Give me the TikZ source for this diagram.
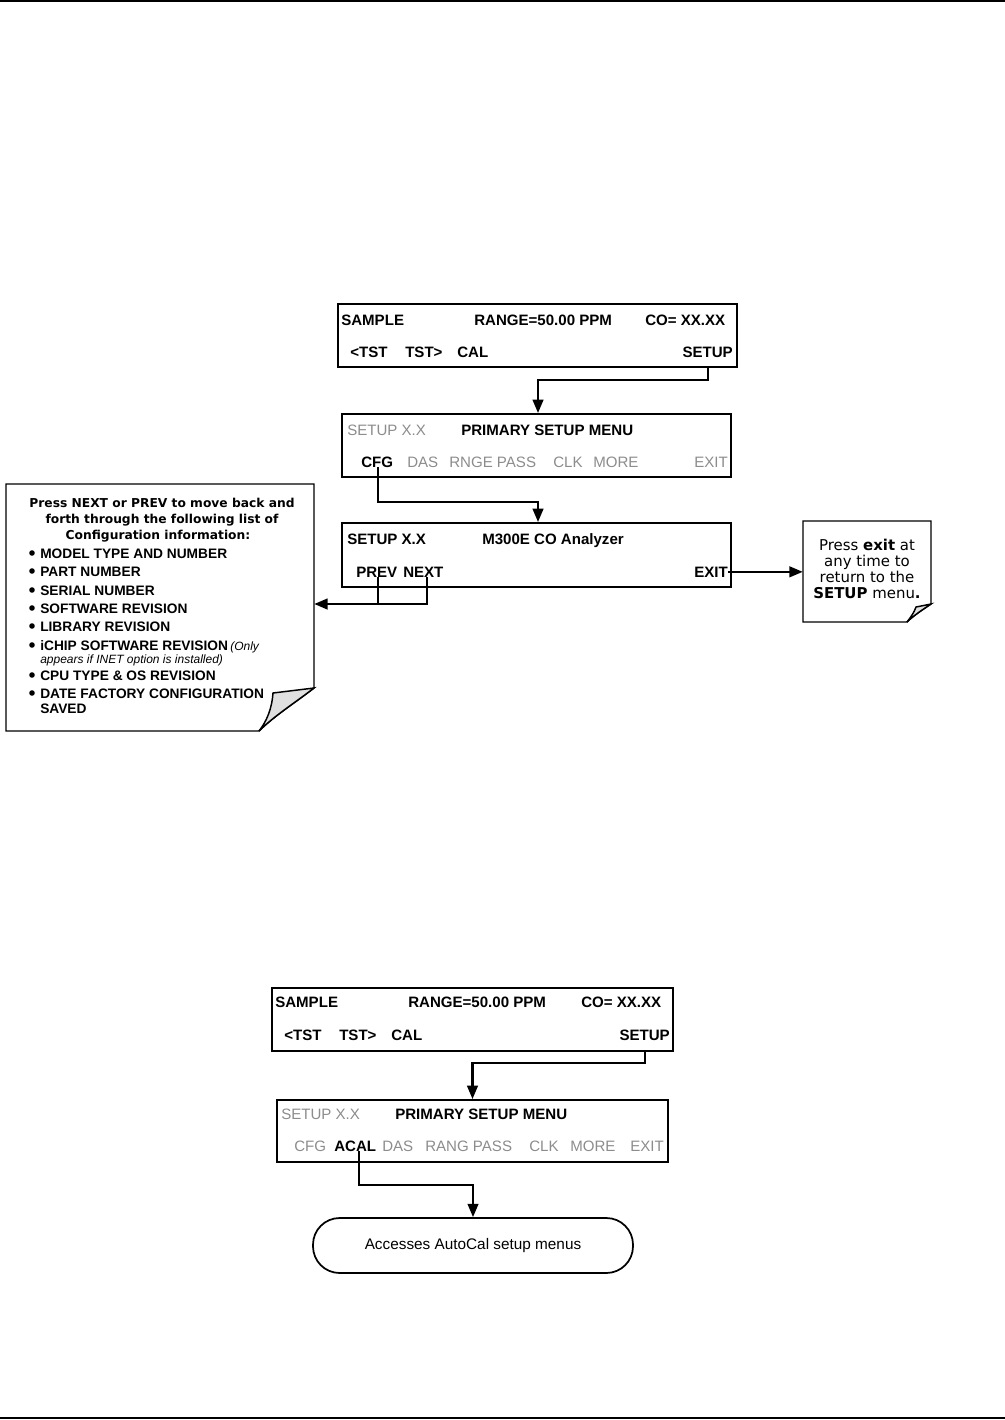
\documentclass[tikz,border=0pt]{standalone}
\usepackage{fontspec}
\setmainfont{Liberation Sans}
\newfontfamily\verd{DejaVu Sans}
\usetikzlibrary{arrows.meta}
\newdimen\pxu \pxu=0.75pt
\definecolor{lcdgray}{gray}{0.55}
\definecolor{curlgray}{gray}{0.88}
\begin{document}
\begin{tikzpicture}[x=0.75pt,y=-0.75pt,
  box/.style={draw, line width=1.5pt, rectangle, inner sep=0pt},
  conn/.style={line width=1.6pt},
  arr/.style={conn, -{Triangle[length=10pt,width=8pt]}},
  lbl/.style={font=\fontsize{11.3}{13}\selectfont\bfseries, inner sep=0pt, anchor=base west},
  gry/.style={font=\fontsize{11.3}{13}\selectfont, text=lcdgray, inner sep=0pt, anchor=base west},
  item/.style={font=\fontsize{10.3}{12}\selectfont\bfseries, inner sep=0pt, anchor=base west},
  ttl/.style={font=\verd\fontsize{9.2}{12}\selectfont\bfseries, inner sep=0pt, anchor=base},
  nt/.style={font=\verd\fontsize{11.2}{12}\selectfont, inner sep=0pt, anchor=base},
  noteline/.style={line width=1.1pt},
]
\useasboundingbox (0,0) rectangle (1005,1420);
\draw[line width=1.2pt] (0,1) -- (1005,1);
\draw[line width=1.2pt] (0,1418) -- (1005,1418);

% ---------- Box 1
\node[box, minimum width=399\pxu, minimum height=63\pxu] (b1) at (537.5,335.5) {};
\node[lbl] (b1sample) at (341,325) {SAMPLE};
\node[lbl] (b1range) at (474,325) {RANGE=50.00 PPM};
\node[lbl] (b1co) at (645,325) {CO= XX.XX};
\node[lbl] (b1tstl) at (350,357) {<TST};
\node[lbl] (b1tstr) at (405,357) {TST>};
\node[lbl] (b1cal) at (457,357) {CAL};
\node[lbl, anchor=base east] (b1setup) at (733,357) {SETUP};

% ---------- Box 2
\node[box, minimum width=389\pxu, minimum height=63\pxu] (b2) at (536.5,445.5) {};
\node[gry] (b2setup) at (347,435) {SETUP X.X};
\node[lbl] (b2title) at (461,435) {PRIMARY SETUP MENU};
\node[lbl] (b2cfg) at (361,467) {CFG};
\node[gry] (b2das) at (407,467) {DAS};
\node[gry] (b2rnge) at (449,467) {RNGE PASS};
\node[gry] (b2clk) at (553,467) {CLK};
\node[gry] (b2more) at (593,467) {MORE};
\node[gry, anchor=base east] (b2exit) at (728,467) {EXIT};

% ---------- Box 3
\node[box, minimum width=389\pxu, minimum height=64\pxu] (b3) at (536.5,555) {};
\node[lbl] (b3setup) at (347,544) {SETUP X.X};
\node[lbl] (b3title) at (482,544) {M300E CO Analyzer};
\node[lbl] (b3prev) at (356,577) {PREV};
\node[lbl] (b3next) at (403,577) {NEXT};
\node[lbl, anchor=base east] (b3exit) at (728,577) {EXIT};

% ---------- connectors, first part
\coordinate (j1) at (0,380);
\coordinate (j2) at (0,502);
\coordinate (j3) at (0,604);
\draw[arr] (b1setup.south |- b1.south) -- (b1setup.south |- j1) -| ([xshift=1.5\pxu]b2.north);
\draw[arr] ([xshift=1\pxu]b2cfg.south) -- ([xshift=1\pxu]b2cfg.south |- j2) -| ([xshift=1.5\pxu]b3.north);

% ---------- Left note
\node[minimum width=308\pxu, minimum height=247\pxu, inner sep=0pt] (note1) at (160,607.5) {};
\draw[noteline] (6,484) -- (314,484) -- (314,688)
  .. controls (296,702) and (274,716) .. (259,731) -- (6,731) -- cycle;
\draw[noteline, fill=curlgray] (314,688) -- (273,693)
  .. controls (272,708) and (267,721) .. (259,731)
  .. controls (274,716) and (296,702) .. (314,688) -- cycle;
\node[ttl] (n1t1) at (162,507) {Press NEXT or PREV to move back and};
\node[ttl] (n1t2) at (162,523) {forth through the following list of};
\node[ttl] (n1t3) at (158,539) {Configuration information:};
\foreach \yy in {553,571,590,608,626,645,675,693} \fill (32,\yy) circle (2.8);
\node[item] (n1i1) at (40,558) {MODEL TYPE AND NUMBER};
\node[item] (n1i2) at (40,576) {PART NUMBER};
\node[item] (n1i3) at (40,595) {SERIAL NUMBER};
\node[item] (n1i4) at (40,613) {SOFTWARE REVISION};
\node[item] (n1i5) at (40,631) {LIBRARY REVISION};
\node[item] (n1i6) at (40,650) {iCHIP SOFTWARE REVISION\,{\mdseries\itshape\fontsize{9}{11}\selectfont (Only}};
\node[item, font=\fontsize{9}{11}\selectfont\itshape] (n1i6b) at (40,663) {appears if INET option is installed)};
\node[item] (n1i7) at (40,680) {CPU TYPE \& OS REVISION};
\node[item] (n1i8) at (40,698) {DATE FACTORY CONFIGURATION};
\node[item] (n1i8b) at (40,713) {SAVED};

% ---------- Right note
\node[minimum width=128\pxu, minimum height=101\pxu, inner sep=0pt] (note2) at (867,571.5) {};
\draw[noteline] (803,521) -- (931,521) -- (931,604)
  .. controls (922,610) and (913,616) .. (907,622) -- (803,622) -- cycle;
\draw[noteline, fill=curlgray] (931,604) -- (916,607)
  .. controls (914,613) and (910,618) .. (907,622)
  .. controls (913,616) and (922,610) .. (931,604) -- cycle;
\node[nt] (n2l1) at (867,550) {Press \textbf{exit} at};
\node[nt] (n2l2) at (867,566) {any time to};
\node[nt] (n2l3) at (867,582) {return to the};
\node[nt] (n2l4) at (867,598) {\textbf{SETUP} menu\textbf{.}};

\draw[conn] ([xshift=1\pxu]b3prev.south) -- ([xshift=1\pxu]b3prev.south |- j3);
\draw[arr] ([xshift=4\pxu]b3next.south) -- ([xshift=4\pxu]b3next.south |- j3) -- (note1.east |- j3);
\draw[arr] (b3exit.east) -- (note2.west |- b3exit.east);

% ---------- Box 4
\node[box, minimum width=401\pxu, minimum height=63\pxu] (b4) at (472.5,1019.5) {};
\node[lbl] (b4sample) at (275,1007) {SAMPLE};
\node[lbl] (b4range) at (408,1007) {RANGE=50.00 PPM};
\node[lbl] (b4co) at (581,1007) {CO= XX.XX};
\node[lbl] (b4tstl) at (284,1040) {<TST};
\node[lbl] (b4tstr) at (339,1040) {TST>};
\node[lbl] (b4cal) at (391,1040) {CAL};
\node[lbl, anchor=base east] (b4setup) at (670,1040) {SETUP};

% ---------- Box 5
\node[box, minimum width=391\pxu, minimum height=62\pxu] (b5) at (472.5,1131) {};
\node[gry] (b5setup) at (281,1119) {SETUP X.X};
\node[lbl] (b5title) at (395,1119) {PRIMARY SETUP MENU};
\node[gry] (b5cfg) at (294,1151) {CFG};
\node[lbl] (b5acal) at (334,1151) {ACAL};
\node[gry] (b5das) at (382,1151) {DAS};
\node[gry] (b5rang) at (425,1151) {RANG PASS};
\node[gry] (b5clk) at (529,1151) {CLK};
\node[gry] (b5more) at (570,1151) {MORE};
\node[gry, anchor=base east] (b5exit) at (664,1151) {EXIT};

% ---------- Rounded box
\node[draw, line width=1.3pt, rounded corners=20pt, minimum width=320\pxu, minimum height=55\pxu,
  font=\fontsize{11.5}{13}\selectfont] (b6) at (473,1245.5) {Accesses AutoCal setup menus};

\coordinate (j4) at (0,1063);
\coordinate (j5) at (0,1185);
\draw[arr] (b4setup.south |- b4.south) -- (b4setup.south |- j4) -| (b5.north);
\draw[arr] ([xshift=4\pxu]b5acal.south) -- ([xshift=4\pxu]b5acal.south |- j5) -| (b6.north);
\end{tikzpicture}
\end{document}
